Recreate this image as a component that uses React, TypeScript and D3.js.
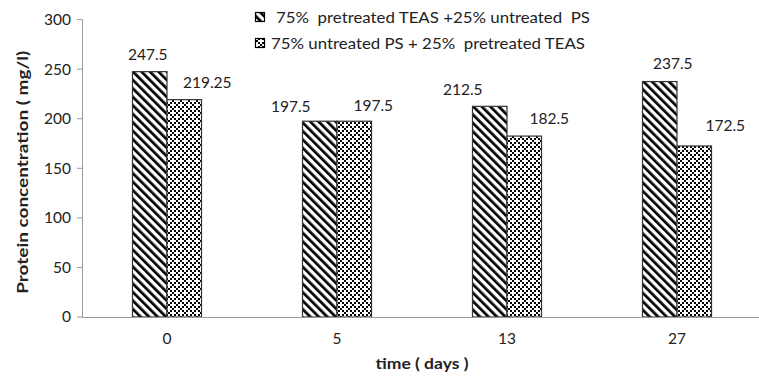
import React from "react";
import * as d3 from "d3";

const categories = ["0", "5", "13", "27"];
const seriesNames = [
  "75%  pretreated TEAS +25% untreated  PS",
  "75% untreated PS + 25%  pretreated TEAS",
];
const pretreatedMajor = [247.5, 197.5, 212.5, 237.5];
const untreatedMajor = [219.25, 197.5, 182.5, 172.5];
const yTicks = [0, 50, 100, 150, 200, 250, 300];

// Hand-placed label nudges (dx from bar centre, gap above bar top)
const labelNudge = [
  [[-2, 17], [23, 17]],
  [[-29, 15], [19, 16]],
  [[-27, 17], [25, 18]],
  [[13, 18], [31, 20]],
];

const W = 759;
const H = 378;
const FONT = "Lato, 'Open Sans', sans-serif";

// 4x4 diagonal lattice bitmap, drawn at 2px per cell
const latticeCells: [number, number][] = [];
for (let py = 0; py < 4; py++) {
  for (let px = 0; px < 4; px++) {
    if ((px - py + 8) % 4 === 0 || (px + py) % 4 === 0) latticeCells.push([px, py]);
  }
}

export default function App() {
  const x = d3
    .scaleBand<string>()
    .domain(categories)
    .range([82, 762])
    .paddingInner(0.594)
    .paddingOuter(0.297);
  const inner = d3
    .scaleBand<number>()
    .domain([0, 1])
    .range([0, x.bandwidth()]);
  const y = d3.scaleLinear().domain([0, 300]).range([317, 19.6]);

  const series = [pretreatedMajor, untreatedMajor];
  const fills = ["url(#diagHatch)", "url(#diamondDots)"];

  return (
    <svg
      width={W}
      height={H}
      style={{ position: "absolute", left: 0, top: 0, background: "#fff" }}
      fontFamily={FONT}
    >
      <defs>
        <pattern
          id="diagHatch"
          patternUnits="userSpaceOnUse"
          width={6}
          height={6}
          patternTransform="rotate(-45)"
        >
          <rect width={6} height={6} fill="#fff" />
          <rect x={0} y={0} width={2.7} height={6} fill="#000" />
        </pattern>
        <pattern id="diamondDots" patternUnits="userSpaceOnUse" width={8} height={8}>
          <rect width={8} height={8} fill="#fff" />
          {latticeCells.map(([px, py]) => (
            <rect key={px + "-" + py} x={px * 2} y={py * 2} width={2} height={2} fill="#000" />
          ))}
        </pattern>
      </defs>

      {/* y axis */}
      <line x1={82.5} x2={82.5} y1={y(300)} y2={y(0)} stroke="#9a9a9a" strokeWidth={1} />
      {yTicks.map((t) => (
        <g key={t}>
          <line x1={77} x2={82.5} y1={y(t)} y2={y(t)} stroke="#9a9a9a" />
          <text
            x={71}
            y={y(t)}
            dy="0.35em"
            textAnchor="end"
            fontSize={15.5}
            fill="#222"
          >
            {t}
          </text>
        </g>
      ))}

      {/* bars */}
      {categories.map((c, ci) =>
        series.map((vals, si) => {
          const bx = (x(c) as number) + (inner(si) as number);
          const bw = inner.bandwidth();
          const top = y(vals[ci]);
          const [dx, gap] = labelNudge[ci][si];
          return (
            <g key={c + "-" + si}>
              <rect
                x={bx}
                y={top}
                width={bw}
                height={y(0) - top}
                fill={fills[si]}
                stroke="#333"
                strokeWidth={1.2}
              />
              <text
                x={bx + bw / 2 + dx}
                y={top - gap}
                dy="0.35em"
                textAnchor="middle"
                fontSize={15.5}
                fill="#222"
              >
                {String(vals[ci])}
              </text>
            </g>
          );
        })
      )}

      {/* x axis */}
      <line x1={82} x2={W} y1={y(0) + 0.5} y2={y(0) + 0.5} stroke="#9a9a9a" strokeWidth={1.2} />
      {categories.map((c) => (
        <text
          key={c}
          x={(x(c) as number) + x.bandwidth() / 2}
          y={339}
          dy="0.35em"
          textAnchor="middle"
          fontSize={15.5}
          fill="#222"
        >
          {c}
        </text>
      ))}

      {/* axis titles */}
      <text
        x={422}
        y={364}
        dy="0.35em"
        textAnchor="middle"
        fontSize={14.5}
        fontWeight="bold"
        fill="#222"
        textLength={93}
        lengthAdjust="spacingAndGlyphs"
      >
        time ( days )
      </text>
      <text
        transform={`translate(23,${(y(300) + y(0)) / 2 + 4}) rotate(-90)`}
        dy="0.35em"
        textAnchor="middle"
        fontSize={14.5}
        fontWeight="bold"
        fill="#222"
        textLength={243}
        lengthAdjust="spacingAndGlyphs"
      >
        Protein concentration ( mg/l)
      </text>

      {/* legend */}
      {seriesNames.map((name, i) => (
        <g key={name}>
          <rect
            x={255.5}
            y={12.5 + i * 26}
            width={9}
            height={9}
            fill={fills[i]}
            stroke="#000"
            strokeWidth={1.2}
          />
          <text
            x={i === 0 ? 276 : 271}
            y={17 + i * 26}
            dy="0.35em"
            fontSize={16}
            fill="#222"
            style={{ whiteSpace: "pre" }}
            textLength={314}
            lengthAdjust="spacingAndGlyphs"
          >
            {name}
          </text>
        </g>
      ))}
    </svg>
  );
}
